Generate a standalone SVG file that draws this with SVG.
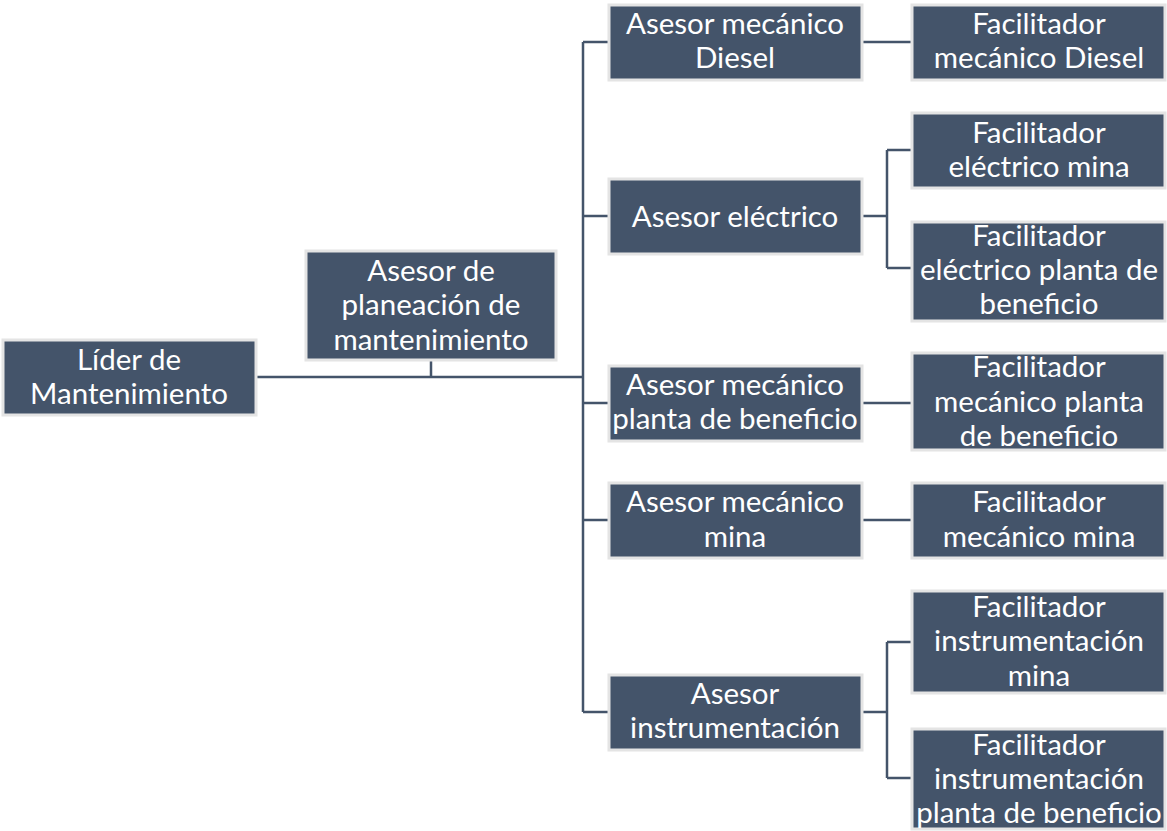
<svg xmlns="http://www.w3.org/2000/svg" width="1167" height="831" viewBox="0 0 1167 831">
<style>
.box{fill:#44546A;stroke:#E4E4E4;stroke-width:3}
.t{fill:#FFFFFF;font-family:Lato,"Open Sans","Liberation Sans",sans-serif;font-size:29.5px;text-anchor:middle;dominant-baseline:central}
.c{fill:none;stroke:#44546A;stroke-width:2.5}
</style>
<rect width="1167" height="831" fill="#FFFFFF"/>
<g id="connectors">
<path class="c" d="M256,377 H583 M431,360 V377"/>
<path class="c" d="M583,42 V712 M583,42 H609 M583,216 H609 M583,403 H609 M583,520 H609 M583,712 H609"/>
<path class="c" d="M862,42 H912"/>
<path class="c" d="M862,216 H887 M887,150 V268 M887,150 H912 M887,268 H912"/>
<path class="c" d="M862,403 H912"/>
<path class="c" d="M862,520 H912"/>
<path class="c" d="M862,712 H887 M887,642 V778 M887,642 H912 M887,778 H912"/>
</g>
<g id="lider"><rect class="box" x="3" y="340" width="253" height="75"/><text class="t" x="129" y="358">Líder de</text><text class="t" x="129" y="392">Mantenimiento</text></g>
<g id="planeacion"><rect class="box" x="306" y="251" width="250" height="109"/><text class="t" x="431" y="269">Asesor de</text><text class="t" x="431" y="303">planeación de</text><text class="t" x="431" y="338">mantenimiento</text></g>
<g id="diesel"><rect class="box" x="609" y="5" width="253" height="75"/><text class="t" x="735" y="22">Asesor mecánico</text><text class="t" x="735" y="56">Diesel</text></g>
<g id="electrico"><rect class="box" x="609" y="179" width="253" height="75"/><text class="t" x="735" y="215">Asesor eléctrico</text></g>
<g id="mec-planta"><rect class="box" x="609" y="366" width="253" height="75"/><text class="t" x="735" y="383">Asesor mecánico</text><text class="t" x="735" y="417">planta de beneficio</text></g>
<g id="mec-mina"><rect class="box" x="609" y="483" width="253" height="75"/><text class="t" x="735" y="500">Asesor mecánico</text><text class="t" x="735" y="535">mina</text></g>
<g id="instrumentacion"><rect class="box" x="609" y="675" width="253" height="75"/><text class="t" x="735" y="692">Asesor</text><text class="t" x="735" y="726">instrumentación</text></g>
<g id="f-diesel"><rect class="box" x="912" y="5" width="253" height="75"/><text class="t" x="1039" y="22">Facilitador</text><text class="t" x="1039" y="56">mecánico Diesel</text></g>
<g id="f-elec-mina"><rect class="box" x="912" y="113" width="253" height="75"/><text class="t" x="1039" y="131">Facilitador</text><text class="t" x="1039" y="165">eléctrico mina</text></g>
<g id="f-elec-planta"><rect class="box" x="912" y="222" width="253" height="99"/><text class="t" x="1039" y="234">Facilitador</text><text class="t" x="1039" y="268">eléctrico planta de</text><text class="t" x="1039" y="302">beneficio</text></g>
<g id="f-mec-planta"><rect class="box" x="912" y="353" width="253" height="97"/><text class="t" x="1039" y="365">Facilitador</text><text class="t" x="1039" y="400">mecánico planta</text><text class="t" x="1039" y="434">de beneficio</text></g>
<g id="f-mec-mina"><rect class="box" x="912" y="483" width="253" height="75"/><text class="t" x="1039" y="500">Facilitador</text><text class="t" x="1039" y="535">mecánico mina</text></g>
<g id="f-instr-mina"><rect class="box" x="912" y="591" width="253" height="102"/><text class="t" x="1039" y="605">Facilitador</text><text class="t" x="1039" y="639">instrumentación</text><text class="t" x="1039" y="674">mina</text></g>
<g id="f-instr-planta"><rect class="box" x="912" y="729" width="253" height="100"/><text class="t" x="1039" y="743">Facilitador</text><text class="t" x="1039" y="777">instrumentación</text><text class="t" x="1039" y="811">planta de beneficio</text></g>
</svg>
